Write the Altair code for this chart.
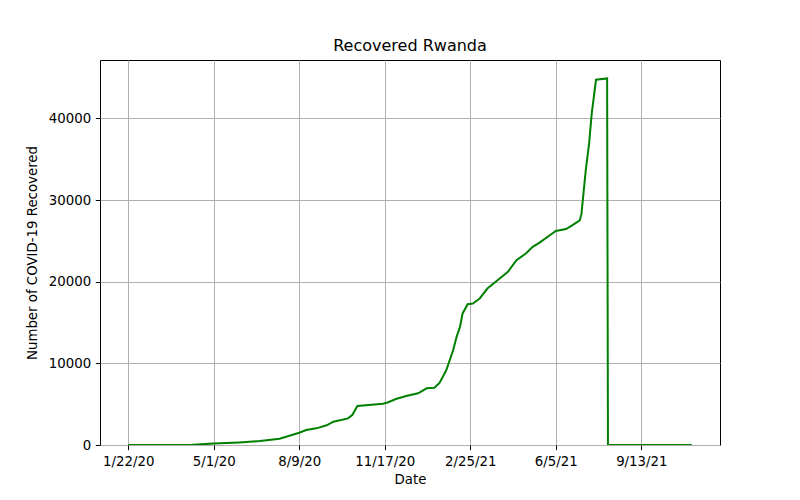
import altair as alt
import pandas as pd

# Values (cumulative recovered, Rwanda)
dates = [
    "2020-01-22", "2020-03-17", "2020-04-06", "2020-05-01", "2020-05-31",
    "2020-06-24", "2020-07-17", "2020-08-09", "2020-08-17", "2020-08-29",
    "2020-09-10", "2020-09-18", "2020-10-05", "2020-10-10", "2020-10-16",
    "2020-11-15", "2020-11-21", "2020-11-30", "2020-12-12", "2020-12-26",
    "2021-01-05", "2021-01-14", "2021-01-20", "2021-01-28", "2021-02-05",
    "2021-02-09", "2021-02-13", "2021-02-16", "2021-02-22", "2021-02-28",
    "2021-03-08", "2021-03-17", "2021-03-31", "2021-04-10", "2021-04-20",
    "2021-05-01", "2021-05-09", "2021-05-17", "2021-05-29", "2021-06-05",
    "2021-06-17", "2021-06-25", "2021-07-03", "2021-07-05", "2021-07-10",
    "2021-07-14", "2021-07-17", "2021-07-22", "2021-08-04", "2021-08-05",
    "2021-11-11",
]
recovered = [
    0, 0, 30, 170, 320,
    490, 770, 1500, 1830, 2040,
    2410, 2850, 3260, 3670, 4770,
    5060, 5230, 5630, 6000, 6330,
    6940, 7010, 7600, 9180, 11630,
    13250, 14480, 16110, 17250, 17330,
    17950, 19160, 20350, 21220, 22630,
    23450, 24270, 24780, 25690, 26220,
    26450, 26950, 27500, 28300, 33640,
    37000, 40570, 44730, 44890, 0,
    0,
]

# x tick labels (every 100 days)
tick_dates = [(2020, 1, 22), (2020, 5, 1), (2020, 8, 9), (2020, 11, 17),
              (2021, 2, 25), (2021, 6, 5), (2021, 9, 13)]
y_ticks = [0, 10000, 20000, 30000, 40000]

df = pd.DataFrame({"date": pd.to_datetime(dates), "recovered": recovered})

FONT = "DejaVu Sans"

chart = alt.Chart(df).mark_line(color="#008000", strokeWidth=2, clip=True).encode(
    x=alt.X(
        "date:T",
        title="Date",
        scale=alt.Scale(domain=[alt.DateTime(year=2019, month=12, date=20),
                                alt.DateTime(year=2021, month=12, date=14)]),
        axis=alt.Axis(
            values=[alt.DateTime(year=y, month=m, date=d) for (y, m, d) in tick_dates],
            format="%-m/%-d/%y",
            labelOverlap=False,
            labelFlush=False,
            titlePadding=5,
        ),
    ),
    y=alt.Y(
        "recovered:Q",
        title="Number of COVID-19 Recovered",
        scale=alt.Scale(domain=[0, 47150], nice=False, zero=False),
        axis=alt.Axis(values=y_ticks, format="d", labelOverlap=False, titlePadding=9),
    ),
).properties(
    width=620,
    height=385,
    title=alt.Title("Recovered Rwanda", fontSize=16, font=FONT, fontWeight="normal",
                    color="black", offset=8, baseline="alphabetic", anchor="middle",
                    frame="group", dy=15),
    autosize=alt.AutoSizeParams(type="none"),
    padding={"left": 92, "top": 52, "right": 72, "bottom": 47},
).configure_view(
    stroke="black", strokeWidth=1
).configure_axis(
    domain=False,
    grid=True,
    gridColor="#b0b0b0",
    gridWidth=1,
    ticks=True,
    tickColor="black",
    tickSize=4.67,
    tickWidth=1,
    labelPadding=4.67,
    labelFont=FONT,
    labelFontSize=13.33,
    labelColor="black",
    titleFont=FONT,
    titleFontSize=13.33,
    titleFontWeight="normal",
    titleColor="black",
)

chart.save("out.html", embed_options={"renderer": "svg", "actions": False})
